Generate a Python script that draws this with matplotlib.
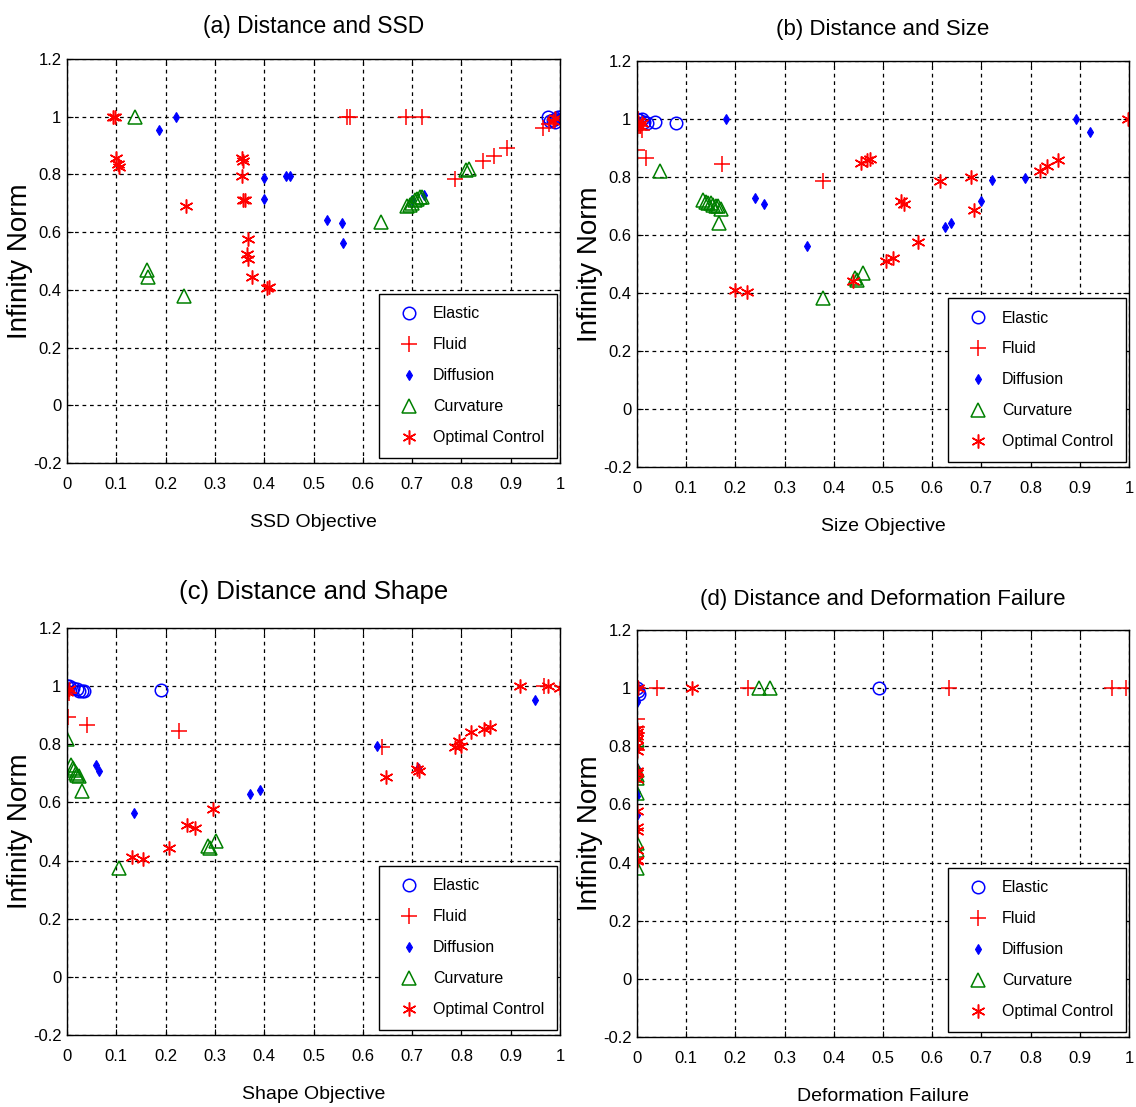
import matplotlib
matplotlib.use("Agg")
import matplotlib.pyplot as plt
from matplotlib.ticker import FuncFormatter

# ---------------- data ----------------
titles = ["(a) Distance and SSD", "(b) Distance and Size",
          "(c) Distance and Shape", "(d) Distance and Deformation Failure"]
xlabels = ["SSD Objective", "Size Objective", "Shape Objective", "Deformation Failure"]
ylabel = "Infinity Norm"
methods = ["Elastic", "Fluid", "Diffusion", "Curvature", "Optimal Control"]

# panel (a)
elastic_a_x = [0.975, 0.985, 0.99, 0.995, 1.0, 0.98]
elastic_a_y = [1.0, 0.99, 0.98, 1.0, 1.0, 0.985]
fluid_a_x = [0.567, 0.574, 0.687, 0.72, 0.787, 0.843, 0.867, 0.893, 0.966, 0.978, 0.99]
fluid_a_y = [1.0, 1.0, 1.0, 1.0, 0.783, 0.847, 0.864, 0.893, 0.962, 0.975, 0.99]
diff_a_x = [0.187, 0.222, 0.40, 0.40, 0.445, 0.453, 0.528, 0.557, 0.559, 0.70, 0.725, 0.99, 0.995, 1.0]
diff_a_y = [0.954, 1.0, 0.789, 0.714, 0.795, 0.795, 0.642, 0.63, 0.562, 0.71, 0.729, 1.0, 1.0, 1.0]
curv_a_x = [0.137, 0.162, 0.165, 0.237, 0.637, 0.69, 0.695, 0.70, 0.705, 0.71, 0.715, 0.72, 0.81, 0.815]
curv_a_y = [1.0, 0.467, 0.444, 0.38, 0.634, 0.69, 0.695, 0.70, 0.71, 0.715, 0.72, 0.72, 0.815, 0.82]
oc_a_x = [0.093, 0.097, 0.10, 0.103, 0.105, 0.241, 0.355, 0.357, 0.354, 0.356, 0.36,
          0.367, 0.366, 0.367, 0.376, 0.405, 0.41, 0.985, 0.99]
oc_a_y = [1.0, 1.0, 0.858, 0.835, 0.824, 0.689, 0.858, 0.847, 0.795, 0.712, 0.712,
          0.576, 0.524, 0.507, 0.444, 0.407, 0.41, 0.985, 0.995]

# panel (b)
elastic_b_x = [0.0, 0.005, 0.01, 0.015, 0.02, 0.037, 0.08]
elastic_b_y = [1.0, 0.995, 1.0, 0.99, 0.985, 0.99, 0.986]
fluid_b_x = [0.001, 0.005, 0.01, 0.019, 0.172, 0.378, 0.003]
fluid_b_y = [0.894, 0.975, 0.963, 0.865, 0.845, 0.787, 1.0]
diff_b_x = [0.0, 0.005, 0.182, 0.24, 0.258, 0.346, 0.627, 0.639, 0.70, 0.722, 0.789, 0.893, 0.92]
diff_b_y = [1.0, 0.99, 1.0, 0.727, 0.708, 0.563, 0.629, 0.643, 0.716, 0.788, 0.796, 1.0, 0.954]
curv_b_x = [0.047, 0.135, 0.14, 0.145, 0.15, 0.155, 0.16, 0.165, 0.17, 0.166, 0.378, 0.443, 0.447, 0.459]
curv_b_y = [0.819, 0.72, 0.715, 0.71, 0.71, 0.705, 0.70, 0.70, 0.69, 0.641, 0.382, 0.451, 0.445, 0.468]
oc_b_x = [0.0, 0.003, 0.006, 0.01, 0.199, 0.224, 0.439, 0.456, 0.468, 0.473, 0.507, 0.52,
          0.537, 0.542, 0.571, 0.615, 0.678, 0.686, 0.82, 0.834, 0.856, 0.998]
oc_b_y = [0.98, 0.99, 0.975, 0.985, 0.411, 0.403, 0.44, 0.848, 0.86, 0.862, 0.509, 0.522,
          0.716, 0.707, 0.575, 0.785, 0.80, 0.687, 0.819, 0.839, 0.86, 1.0]

# panel (c)
elastic_c_x = [0.0, 0.005, 0.012, 0.02, 0.025, 0.03, 0.035, 0.191]
elastic_c_y = [1.0, 1.0, 0.995, 0.99, 0.985, 0.985, 0.985, 0.988]
fluid_c_x = [0.002, 0.041, 0.227, 0.638, 0.968, 0.0, 0.003]
fluid_c_y = [0.893, 0.868, 0.847, 0.789, 1.0, 0.985, 0.975]
diff_c_x = [0.0, 0.058, 0.064, 0.135, 0.372, 0.391, 0.628, 0.711, 0.949]
diff_c_y = [1.0, 0.729, 0.709, 0.565, 0.63, 0.642, 0.795, 0.72, 0.954]
curv_c_x = [0.0, 0.009, 0.012, 0.015, 0.018, 0.02, 0.025, 0.031, 0.105, 0.286, 0.29, 0.303]
curv_c_y = [0.818, 0.73, 0.72, 0.71, 0.70, 0.695, 0.69, 0.639, 0.374, 0.449, 0.445, 0.467]
oc_c_x = [0.0, 0.004, 0.131, 0.154, 0.206, 0.243, 0.259, 0.296, 0.647, 0.709, 0.714,
          0.787, 0.795, 0.80, 0.82, 0.846, 0.858, 0.919, 0.976, 0.999]
oc_c_y = [0.98, 0.99, 0.412, 0.406, 0.444, 0.524, 0.513, 0.576, 0.689, 0.714, 0.709,
          0.789, 0.812, 0.795, 0.843, 0.853, 0.861, 1.0, 1.0, 0.993]

# panel (d)
elastic_d_x = [0.0, 0.002, 0.004, 0.492]
elastic_d_y = [1.0, 0.99, 0.98, 1.0]
fluid_d_x = [0.003, 0.04, 0.226, 0.635, 0.966, 0.995, 0.0, 0.0, 0.0, 0.0]
fluid_d_y = [1.0, 1.0, 1.0, 1.0, 1.0, 1.0, 0.894, 0.865, 0.845, 0.787]
diff_d_x = [0.0, 0.0, 0.0, 0.0, 0.0, 0.0, 0.0, 0.0, 0.0]
diff_d_y = [1.0, 0.954, 0.96, 0.795, 0.727, 0.708, 0.643, 0.63, 0.563]
curv_d_x = [0.249, 0.27, 0.0, 0.0, 0.0, 0.0, 0.0, 0.0, 0.0, 0.0]
curv_d_y = [1.0, 1.0, 0.82, 0.72, 0.70, 0.69, 0.64, 0.467, 0.445, 0.38]
oc_d_x = [0.003, 0.111, 0.0, 0.0, 0.0, 0.0, 0.0, 0.0, 0.0, 0.0, 0.0, 0.0, 0.0, 0.0, 0.0, 0.0, 0.0]
oc_d_y = [1.0, 1.0, 0.86, 0.848, 0.835, 0.824, 0.80, 0.785, 0.716, 0.707, 0.689,
          0.576, 0.524, 0.509, 0.444, 0.41, 0.405]

panels = [
    [(elastic_a_x, elastic_a_y), (fluid_a_x, fluid_a_y), (diff_a_x, diff_a_y), (curv_a_x, curv_a_y), (oc_a_x, oc_a_y)],
    [(elastic_b_x, elastic_b_y), (fluid_b_x, fluid_b_y), (diff_b_x, diff_b_y), (curv_b_x, curv_b_y), (oc_b_x, oc_b_y)],
    [(elastic_c_x, elastic_c_y), (fluid_c_x, fluid_c_y), (diff_c_x, diff_c_y), (curv_c_x, curv_c_y), (oc_c_x, oc_c_y)],
    [(elastic_d_x, elastic_d_y), (fluid_d_x, fluid_d_y), (diff_d_x, diff_d_y), (curv_d_x, curv_d_y), (oc_d_x, oc_d_y)],
]

xticks = [0, 0.1, 0.2, 0.3, 0.4, 0.5, 0.6, 0.7, 0.8, 0.9, 1]
yticks = [-0.2, 0, 0.2, 0.4, 0.6, 0.8, 1, 1.2]

# ---------------- style ----------------
plt.rcParams['font.family'] = ['Liberation Sans', 'DejaVu Sans']

styles = [
    dict(marker='o', color='blue', mfc='none', ms=9, mew=1.1),
    dict(marker='+', color='red', ms=11, mew=1.1),
    dict(marker='d', color='blue', mfc='blue', ms=5.5, mew=0.8),
    dict(marker='^', color='green', mfc='none', ms=10, mew=1.1),
    dict(marker=(6, 2, 0), color='red', ms=10, mew=1.1),
]

positions = [
    [0.059, 0.5818, 0.434, 0.3649],
    [0.5607, 0.5781, 0.4331, 0.3668],
    [0.059, 0.065, 0.434, 0.3677],
    [0.5607, 0.0632, 0.4331, 0.3677],
]
title_sizes = [16.5, 16, 18.5, 16]
title_pads = [19, 19, 21, 18]

fig = plt.figure(figsize=(11.36, 11.07), dpi=100)
fmt = FuncFormatter(lambda v, p: ('%g' % round(v, 2)))

for i in range(4):
    ax = fig.add_axes(positions[i])
    for (xs, ys), st, name in zip(panels[i], styles, methods):
        ax.plot(xs, ys, linestyle='none', label=name, **st)
    ax.set_xlim(0, 1)
    ax.set_ylim(-0.2, 1.2)
    ax.set_xticks(xticks)
    ax.set_yticks(yticks)
    ax.xaxis.set_major_formatter(fmt)
    ax.yaxis.set_major_formatter(fmt)
    ax.grid(True, color='black', linestyle=(0, (3, 3)), linewidth=0.9)
    ax.tick_params(direction='in', top=True, right=True, labelsize=12, length=4)
    ax.tick_params(axis='x', pad=10)
    ax.tick_params(axis='y', pad=4)
    for s in ax.spines.values():
        s.set_linewidth(1.0)
    ax.set_title(titles[i], fontsize=title_sizes[i], pad=title_pads[i])
    ax.set_xlabel(xlabels[i], fontsize=14, labelpad=16)
    ax.set_ylabel(ylabel, fontsize=20, labelpad=0)
    leg = ax.legend(loc='lower right', bbox_to_anchor=(0.994, 0.012), fontsize=11.5,
                    frameon=True, fancybox=False, edgecolor='black', framealpha=1,
                    labelspacing=1.0, borderpad=0.8, handletextpad=0.4,
                    borderaxespad=0, handlelength=2.2)
    leg.get_frame().set_linewidth(1.0)

fig.savefig('out.png', dpi=100)
